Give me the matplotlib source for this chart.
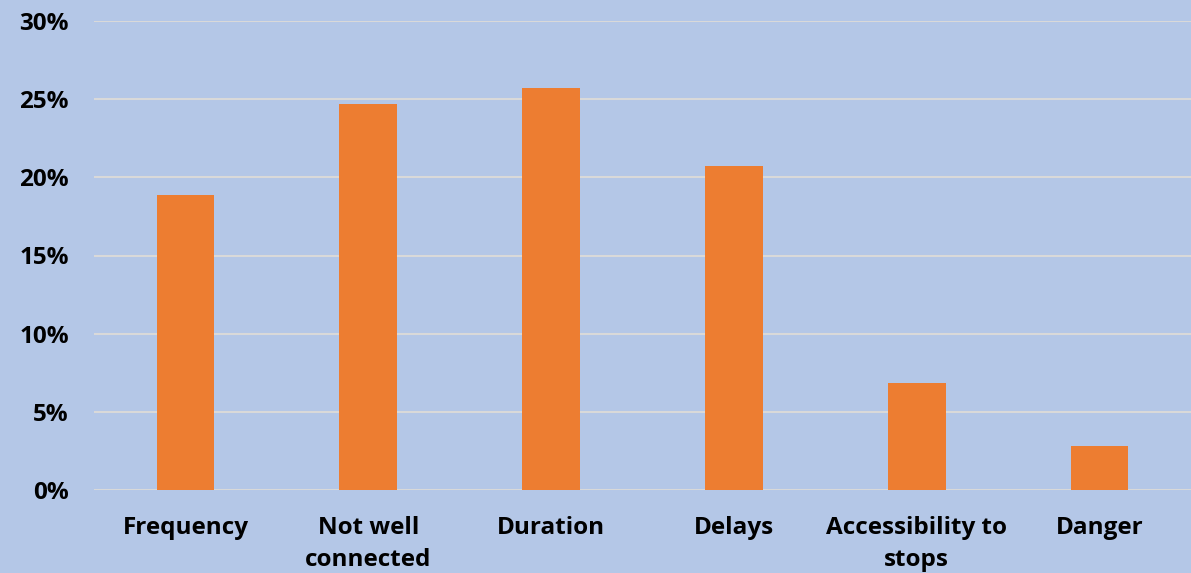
import numpy as np
import matplotlib.pyplot as plt
from matplotlib.ticker import PercentFormatter

categories = ['Frequency', 'Not well\nconnected', 'Duration', 'Delays',
              'Accessibility to\nstops', 'Danger']
shares = [18.9, 24.7, 25.7, 20.7, 6.85, 2.8]
y_ticks = [0, 5, 10, 15, 20, 25, 30]

plt.rcParams['font.family'] = ['Open Sans', 'DejaVu Sans']
plt.rcParams['font.weight'] = 'bold'

bg = '#B4C7E7'
fig = plt.figure(figsize=(11.91, 5.73), dpi=100, facecolor=bg)
ax = fig.add_axes([94 / 1191, 1 - 490 / 573, 1 - 94 / 1191, (490 - 21) / 573])
ax.set_facecolor(bg)

x = np.arange(len(categories))
ax.bar(x, shares, width=0.316, color='#ED7D31', zorder=3)

ax.set_xlim(-0.5, len(categories) - 0.5)
ax.set_ylim(0, 30)
ax.set_yticks(y_ticks)
ax.yaxis.set_major_formatter(PercentFormatter(decimals=0))
ax.set_xticks(x)
ax.set_xticklabels(categories, linespacing=1.4)
ax.grid(axis='y', color='#D9D9D9', linewidth=1.5, zorder=0)
for s in ax.spines.values():
    s.set_visible(False)
ax.tick_params(axis='both', length=0, labelsize=17.5)
ax.tick_params(axis='y', pad=18)
ax.tick_params(axis='x', pad=19)
for lbl in ax.get_yticklabels():
    lbl.set_horizontalalignment('right')

fig.savefig('out.png', dpi=100, facecolor=bg)
